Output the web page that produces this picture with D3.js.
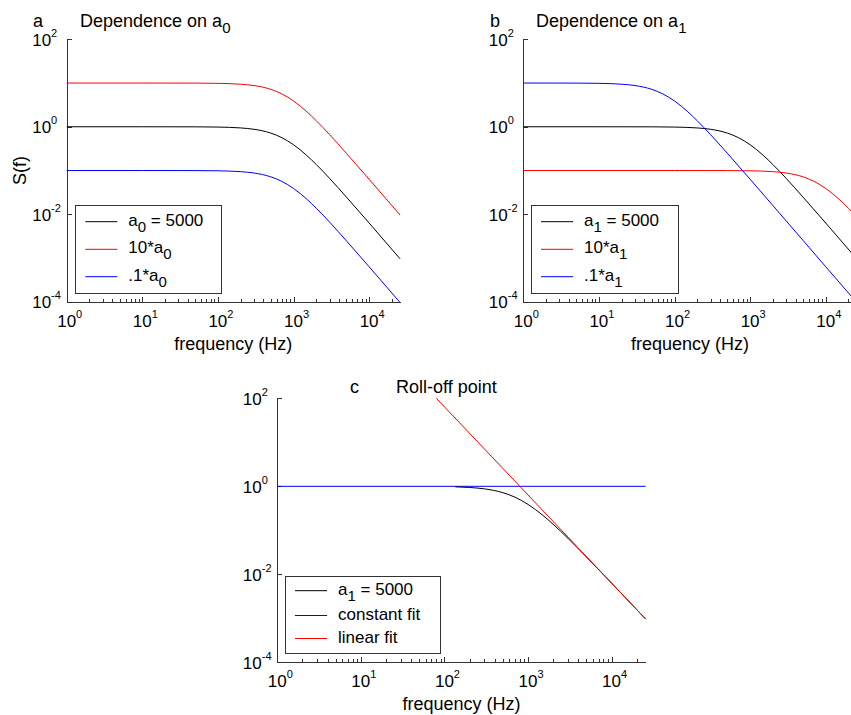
<!DOCTYPE html>
<html>
<head>
<meta charset="utf-8">
<script src="https://cdn.jsdelivr.net/npm/d3@7"></script>
<style>
  body { margin: 0; background: #fff; }
  svg { display: block; font-family: "Liberation Sans", Arial, sans-serif; }
  .axis path, .axis line { stroke: #333; shape-rendering: crispEdges; }
  .curve { fill: none; stroke-width: 1; }
</style>
</head>
<body>
<div id="chart"></div>
<script>
// values (S(f) on log-log axes)
const decades = [1, 10, 100, 1000, 10000];
const yTicks = [100, 1, 0.01, 0.0001];

// panel a: dependence on a0
const freqA = [1, 10, 50, 100, 200, 300, 500, 700, 1000, 1500, 2000, 3000, 5000, 10000, 25600];
const baseA = [1, 1, 0.996, 0.984, 0.94, 0.876, 0.717, 0.564, 0.388, 0.22, 0.137, 0.066, 0.0247, 0.0063, 0.00096];
const tenA0 = [10, 10, 9.96, 9.84, 9.4, 8.76, 7.17, 5.64, 3.88, 2.2, 1.37, 0.66, 0.247, 0.063, 0.0096];
const tenthA0 = [0.1, 0.1, 0.0996, 0.0984, 0.094, 0.0876, 0.0717, 0.0564, 0.0388, 0.022, 0.0137, 0.0066, 0.00247, 0.00063, 0.000096];

// panel b: dependence on a1
const freqBlueB = [1, 5, 10, 20, 30, 50, 70, 100, 150, 200, 300, 500, 1000, 2000, 5000, 10000, 25600];
const tenthA1 = [10, 9.96, 9.84, 9.4, 8.76, 7.17, 5.64, 3.88, 2.2, 1.37, 0.66, 0.247, 0.063, 0.0158, 0.00253, 0.00063, 0.0000966];
const freqRedB = [1, 100, 500, 1000, 2000, 3000, 5000, 7000, 10000, 15000, 20000, 25600];
const tenA1 = [0.1, 0.1, 0.0996, 0.0984, 0.094, 0.0876, 0.0717, 0.0564, 0.0388, 0.022, 0.0137, 0.0088];

// panel c: roll-off point
const freqC = [135, 200, 300, 500, 700, 1000, 1500, 2000, 3000, 5000, 10000, 25600];
const rollC = [0.972, 0.94, 0.876, 0.717, 0.564, 0.388, 0.22, 0.137, 0.066, 0.0247, 0.0063, 0.00096];
const constFreq = [1, 25600];
const constFit = [1, 1];
const linFreq = [80, 25600];
const linFit = [100, 0.00096];

const zip = (fs, vs) => fs.map((f, i) => ({f: f, s: vs[i]}));

const svg = d3.select("#chart").append("svg")
    .attr("width", 851)
    .attr("height", 715);

function drawPanel(p) {
    const x = d3.scaleLog().domain([1, 25600]).range([p.x0, p.x1]);
    const y = d3.scaleLog().domain([0.0001, 100]).range([p.y1, p.y0]);
    const g = svg.append("g");

    // minor x ticks
    let minor = [];
    decades.forEach(d => { for (let k = 2; k <= 9; k++) if (d * k <= 25600) minor.push(d * k); });
    g.append("g").attr("class", "axis")
        .attr("transform", "translate(0," + p.y1 + ")")
        .call(d3.axisBottom(x).tickValues(minor).tickSize(-3).tickSizeOuter(0).tickFormat(""));
    g.append("g").attr("class", "axis")
        .attr("transform", "translate(0," + p.y1 + ")")
        .call(d3.axisBottom(x).tickValues(decades).tickSize(-5).tickSizeOuter(0).tickFormat(""));
    g.append("g").attr("class", "axis")
        .attr("transform", "translate(" + p.x0 + ",0)")
        .call(d3.axisLeft(y).tickValues(yTicks).tickSize(-5).tickSizeOuter(0).tickFormat(""));

    // tick labels as 10^n
    decades.forEach(d => {
        let t = g.append("text").attr("x", x(d) - 9.5).attr("y", p.y1 + 25).attr("font-size", 17);
        t.append("tspan").text("10");
        t.append("tspan").attr("dy", -9).attr("font-size", 11).text(Math.round(Math.log10(d)));
    });
    yTicks.forEach(v => {
        let t = g.append("text").attr("x", p.x0 - 34.5).attr("y", y(v) + 6.5).attr("font-size", 17);
        t.append("tspan").text("10");
        t.append("tspan").attr("dy", -9).attr("font-size", 11).text(Math.round(Math.log10(v)));
    });

    g.append("text")
        .attr("x", (p.x0 + p.x1) / 2).attr("y", p.y1 + 48)
        .attr("text-anchor", "middle").attr("font-size", 18)
        .text("frequency (Hz)");

    if (p.ylabel) {
        g.append("text")
            .attr("transform", "translate(26," + ((p.y0 + p.y1) / 2) + ") rotate(-90)")
            .attr("text-anchor", "middle").attr("font-size", 18)
            .text(p.ylabel);
    }

    // panel letter + title
    g.append("text").attr("x", p.letterX).attr("y", p.titleY).attr("font-size", 18).text(p.letter);
    let tt = g.append("text").attr("x", p.titleX).attr("y", p.titleY).attr("font-size", 18);
    tt.append("tspan").text(p.title);
    if (p.titleSub) tt.append("tspan").attr("dy", 6).attr("font-size", 15).text(p.titleSub);

    // curves
    const line = d3.line().x(d => x(d.f)).y(d => y(d.s)).curve(d3.curveMonotoneX);
    p.series.forEach(s => {
        g.append("path").attr("class", "curve")
            .attr("stroke", s.color)
            .attr("d", line(s.data));
    });

    // legend
    const L = p.legend;
    g.append("rect")
        .attr("x", L.x).attr("y", L.y).attr("width", L.w).attr("height", L.h)
        .attr("fill", "#fff").attr("stroke", "#333").attr("shape-rendering", "crispEdges");
    L.rows.forEach((r, i) => {
        let ly = L.rowY[i];
        g.append("line")
            .attr("x1", L.x + 10).attr("x2", L.x + 42).attr("y1", ly).attr("y2", ly)
            .attr("stroke", r.color).attr("stroke-width", 1);
        let t = g.append("text").attr("x", L.x + 53).attr("y", ly + 4).attr("font-size", 17);
        r.parts.forEach(pt => {
            if (pt.sub) t.append("tspan").attr("dy", 6).attr("font-size", 15).text(pt.sub);
            else t.append("tspan").attr("dy", pt.up ? -6 : null).text(pt.t);
        });
    });
}

drawPanel({
    x0: 66.7, x1: 400, y0: 39.3, y1: 301.7,
    letter: "a", letterX: 33, title: "Dependence on a", titleSub: "0", titleX: 80, titleY: 27,
    ylabel: "S(f)",
    series: [
        {color: "#000", data: zip(freqA, baseA)},
        {color: "#ff0000", data: zip(freqA, tenA0)},
        {color: "#0000ff", data: zip(freqA, tenthA0)}
    ],
    legend: {
        x: 75.3, y: 205.7, w: 146.4, h: 87.6, rowY: [221.7, 249.3, 276.7],
        rows: [
            {color: "#000", parts: [{t: "a"}, {sub: "0"}, {t: " = 5000", up: true}]},
            {color: "#ff0000", parts: [{t: "10*a"}, {sub: "0"}]},
            {color: "#0000ff", parts: [{t: ".1*a"}, {sub: "0"}]}
        ]
    }
});

drawPanel({
    x0: 523.3, x1: 856.6, y0: 39.3, y1: 301.7,
    letter: "b", letterX: 490, title: "Dependence on a", titleSub: "1", titleX: 536, titleY: 27,
    series: [
        {color: "#000", data: zip(freqA, baseA)},
        {color: "#ff0000", data: zip(freqRedB, tenA1)},
        {color: "#0000ff", data: zip(freqBlueB, tenthA1)}
    ],
    legend: {
        x: 531, y: 205.7, w: 147.3, h: 87.6, rowY: [221.7, 249.3, 276.7],
        rows: [
            {color: "#000", parts: [{t: "a"}, {sub: "1"}, {t: " = 5000", up: true}]},
            {color: "#ff0000", parts: [{t: "10*a"}, {sub: "1"}]},
            {color: "#0000ff", parts: [{t: ".1*a"}, {sub: "1"}]}
        ]
    }
});

drawPanel({
    x0: 277.3, x1: 645.7, y0: 398.3, y1: 662.3,
    letter: "c", letterX: 350, title: "Roll-off point", titleX: 396, titleY: 393,
    series: [
        {color: "#0000ff", data: zip(constFreq, constFit)},
        {color: "#000", data: zip(freqC, rollC)},
        {color: "#ff0000", data: zip(linFreq, linFit)}
    ],
    legend: {
        x: 285, y: 576, w: 155.7, h: 77.3, rowY: [590.7, 615.5, 638.5],
        rows: [
            {color: "#000", parts: [{t: "a"}, {sub: "1"}, {t: " = 5000", up: true}]},
            {color: "#0000ff", parts: [{t: "constant fit"}]},
            {color: "#ff0000", parts: [{t: "linear fit"}]}
        ]
    }
});
</script>
</body>
</html>
